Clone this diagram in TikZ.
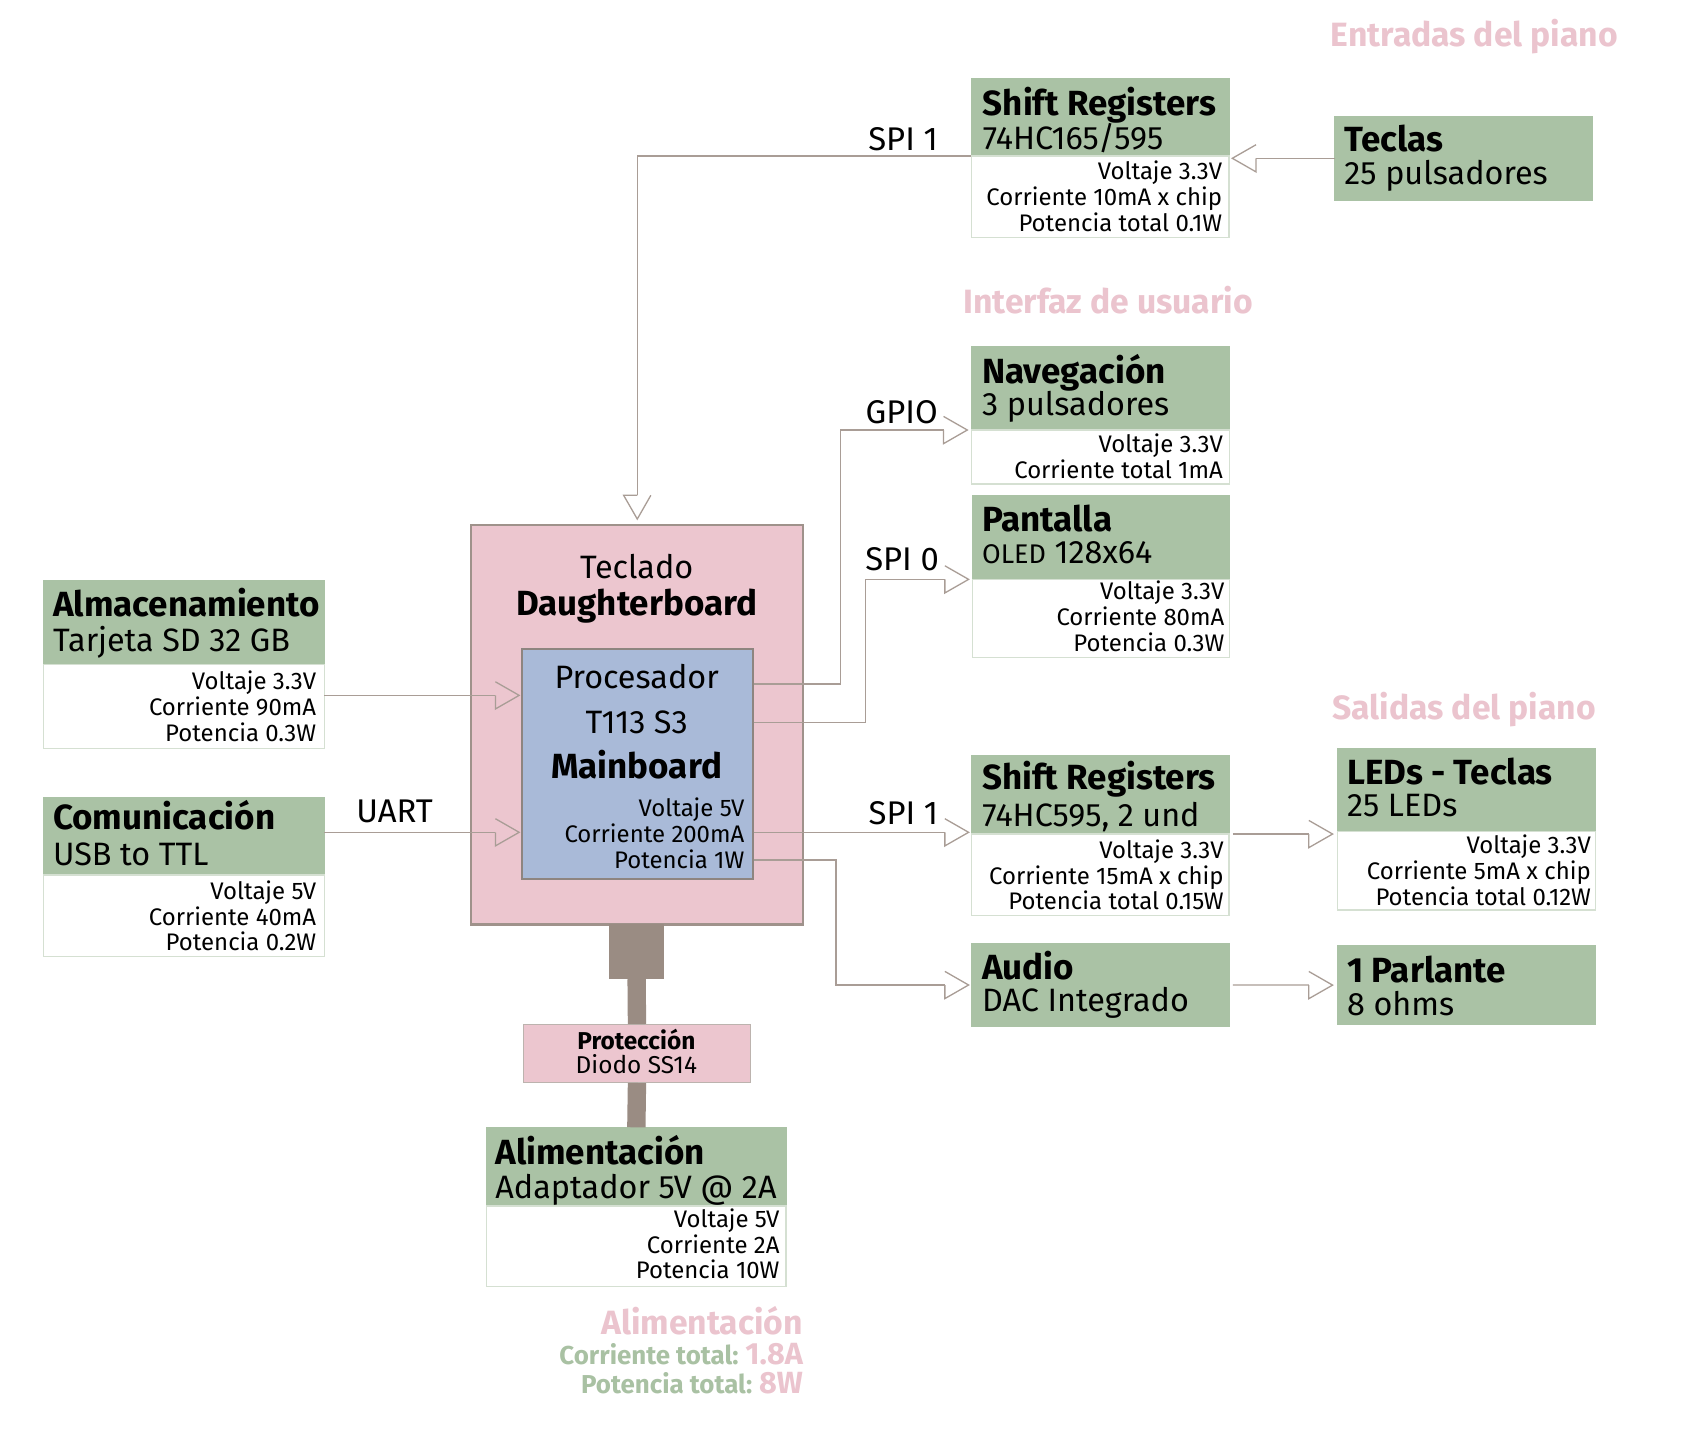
\documentclass[tikz,border=0pt]{standalone}
\usepackage{fontspec}
\setmainfont{Fira Sans}
\usetikzlibrary{arrows.meta}
\definecolor{hdrgreen}{HTML}{AAC2A5}
\definecolor{pinkfill}{HTML}{ECC6CF}
\definecolor{bluefill}{HTML}{A9BAD8}
\definecolor{linecol}{HTML}{A99D96}
\definecolor{barcol}{HTML}{9A8C83}
\definecolor{bordgreen}{HTML}{D5E0D2}
\definecolor{dbborder}{HTML}{9F928B}
\definecolor{mbborder}{HTML}{8E8580}
\definecolor{pinktext}{HTML}{EBC4CE}
\definecolor{greentext}{HTML}{A9C1A3}
\pgfdeclarearrow{
  name=Chev,
  setup code={
    \pgfarrowssettipend{0pt}
    \pgfarrowssetlineend{-11pt}
    \pgfarrowssetvisualbackend{-11pt}
    \pgfarrowssetbackend{-11pt}
    \pgfarrowshullpoint{0pt}{0pt}
    \pgfarrowshullpoint{-11pt}{6.3pt}
    \pgfarrowshullpoint{-11pt}{-6.3pt}
  },
  drawing code={
    \pgfpathmoveto{\pgfpoint{-11pt}{0pt}}
    \pgfpathlineto{\pgfpoint{-11pt}{-6.3pt}}
    \pgfpathlineto{\pgfpointorigin}
    \pgfpathlineto{\pgfpoint{-11pt}{6.3pt}}
    \pgfusepathqstroke
  }
}
\pgfdeclarearrow{
  name=ChevM,
  setup code={
    \pgfarrowssettipend{0pt}
    \pgfarrowssetlineend{-11pt}
    \pgfarrowssetvisualbackend{-11pt}
    \pgfarrowssetbackend{-11pt}
    \pgfarrowshullpoint{0pt}{0pt}
    \pgfarrowshullpoint{-11pt}{6.3pt}
    \pgfarrowshullpoint{-11pt}{-6.3pt}
  },
  drawing code={
    \pgfpathmoveto{\pgfpoint{-11pt}{0pt}}
    \pgfpathlineto{\pgfpoint{-11pt}{6.3pt}}
    \pgfpathlineto{\pgfpointorigin}
    \pgfpathlineto{\pgfpoint{-11pt}{-6.3pt}}
    \pgfusepathqstroke
  }
}
\newcommand\bx[6]{\node[#6, anchor=north west, minimum width={(#4-#2)*0.5pt}, minimum height={(#5-#3)*0.5pt}] (#1) at (#2,#3) {};}
\tikzset{
  hdr/.style={fill=hdrgreen, draw=hdrgreen, line width=0.5pt, inner sep=0, outer sep=0},
  bodybox/.style={fill=white, draw=bordgreen, line width=0.6pt, inner sep=0, outer sep=0},
  ttl/.style={anchor=base west, inner sep=0, font=\fontsize{16.2}{17}\selectfont\bfseries},
  subt/.style={anchor=base west, inner sep=0, font=\fontsize{15}{16}\selectfont},
  val/.style={anchor=base east, inner sep=0, font=\fontsize{11.1}{12}\selectfont},
  sec/.style={anchor=base east, inner sep=0, text=pinktext, font=\fontsize{15.6}{16}\selectfont\bfseries},
  lbl/.style={inner sep=0, font=\fontsize{15.2}{16}\selectfont},
  conn/.style={draw=linecol, line width=0.6pt},
  barline/.style={draw=barcol, line width=8.5pt},
}
\begin{document}
\begin{tikzpicture}[x=0.5pt,y=-0.5pt]
\useasboundingbox[fill=white] (0,0) rectangle (1568,1334);
% ---- boxes
\bx{sr1h}{900}{72.6}{1139}{144.6}{hdr}
\bx{sr1b}{900}{144.6}{1139}{220}{bodybox}
\bx{tec}{1236.8}{108.1}{1476}{185.3}{hdr}
\bx{navh}{900.4}{321.3}{1139.2}{398.5}{hdr}
\bx{navb}{900.4}{398.5}{1139.2}{448.5}{bodybox}
\bx{panh}{901}{459.6}{1139.2}{536.9}{hdr}
\bx{panb}{901}{536.9}{1139.2}{609.2}{bodybox}
\bx{sr2h}{900.6}{700.3}{1138.9}{772.9}{hdr}
\bx{sr2b}{900.6}{772.9}{1138.9}{848.2}{bodybox}
\bx{ledh}{1239.5}{693.5}{1478.7}{770.7}{hdr}
\bx{ledb}{1239.5}{770.7}{1478.7}{843.3}{bodybox}
\bx{aud}{900.6}{874.2}{1138.9}{951.4}{hdr}
\bx{parl}{1239.5}{876.6}{1478.7}{949.2}{hdr}
\bx{almh}{40.2}{538.1}{300.6}{615.6}{hdr}
\bx{almb}{40.2}{615.6}{300.6}{693.5}{bodybox}
\bx{comh}{40.2}{739.5}{300.6}{810.9}{hdr}
\bx{comb}{40.2}{810.9}{300.6}{886.5}{bodybox}
\bx{db}{435.6}{485.6}{743.5}{855.7}{fill=pinkfill, draw=dbborder, line width=1pt, inner sep=0}
\bx{mb}{482.7}{600.2}{696.5}{813.3}{fill=bluefill, draw=mbborder, line width=1pt, inner sep=0}
\bx{plug}{564.4}{855.7}{614.7}{906.6}{fill=barcol, inner sep=0}
\bx{prot}{484.4}{949}{695}{1002.4}{fill=pinkfill, draw=dbborder!70, line width=0.6pt, inner sep=0}
\bx{alih}{451}{1044.7}{728.4}{1117.6}{hdr}
\bx{alib}{451}{1117.6}{728.4}{1192.4}{bodybox}
% ---- power bars
\draw[barline] (plug.south) -- (prot.north);
\draw[barline] (prot.south) -- (alih.north);
% ---- connectors
\draw[conn,-ChevM,shorten >=1.5pt] (tec.west) -- (tec.west -| sr1h.east);
\draw[conn,-Chev,shorten >=2.3pt] (sr1h.south west) -| (db.north);
\coordinate (almout) at (300.6,644.4);
\draw[conn,-Chev,shorten >=0.8pt] (almout) -- (almout -| mb.west);
\coordinate (comout) at (300.6,771.3);
\draw[conn,-Chev,shorten >=0.8pt] (comout) -- (comout -| mb.west);
\coordinate (gpo) at (698.7,633.9);
\draw[conn,-Chev,shorten >=2pt] (gpo) -- ++(80.3,0) |- (navh.south west);
\coordinate (spo) at (698.7,669.7);
\draw[conn,-Chev,shorten >=1.7pt] (spo) -- ++(103.3,0) |- (panh.south west);
\coordinate (s1o) at (698.7,771.3);
\draw[conn,-Chev,shorten >=1.5pt] (s1o) -- (s1o -| sr2h.west);
\coordinate (auo) at (698.7,797);
\draw[conn,-Chev,shorten >=1.5pt] (auo) -- ++(76,0) |- (aud.west);
\draw[conn,-Chev,shorten <=1.8pt,shorten >=2.3pt] (sr2h.south east) -- (sr2h.south east -| ledh.west);
\draw[conn,-Chev,shorten <=1.8pt,shorten >=2.3pt] (aud.east) -- (parl.west);
% ---- connector labels
\node[lbl,anchor=base east] (l1) at (869.5,139.6) {SPI 1};
\node[lbl,anchor=base east] (l2) at (869.5,392.3) {GPIO};
\node[lbl,anchor=base east] (l3) at (870.5,528.5) {SPI 0};
\node[lbl,anchor=base east] (l4) at (869.8,763.6) {SPI 1};
\node[lbl,anchor=base west] (l5) at (329.9,762.4) {UART};
% ---- section headings
\node[sec] (s1) at (1499.7,43.3) {Entradas del piano};
\node[sec] (s2) at (1161.5,290.4) {Interfaz de usuario};
\node[sec] (s3) at (1479.2,667.2) {Salidas del piano};
% ---- box texts
\node[ttl] (a1) at (910.4,106.6) {Shift Registers};
\node[subt] (a2) at (910.4,139) {74HC165/595};
\node[val] (a3) at (1133,166.8) {Voltaje 3.3V};
\node[val] (a4) at (1133,190.6) {Corriente 10mA x chip};
\node[val] (a5) at (1133,214.7) {Potencia total 0.1W};
\node[ttl] (b1) at (1245.5,140.5) {Teclas};
\node[subt] (b2) at (1245.5,171.4) {25 pulsadores};
\node[ttl] (c1) at (909.7,355.2) {Navegación};
\node[subt] (c2) at (909.7,384.6) {3 pulsadores};
\node[val] (c3) at (1133.6,419.5) {Voltaje 3.3V};
\node[val] (c4) at (1133.6,443.3) {Corriente total 1mA};
\node[ttl] (d1) at (909.7,492.7) {Pantalla};
\node[subt] (d2) at (909.7,522) {{\fontsize{12.5}{14}\selectfont OLED} 128x64};
\node[val] (d3) at (1135,556) {Voltaje 3.3V};
\node[val] (d4) at (1135,580) {Corriente 80mA};
\node[val] (d5) at (1135,604) {Potencia 0.3W};
\node[ttl] (e1) at (910,732) {Shift Registers};
\node[subt] (e2) at (910,766) {74HC595, 2 und};
\node[val] (e3) at (1134.3,795.4) {Voltaje 3.3V};
\node[val] (e4) at (1134.3,819.5) {Corriente 15mA x chip};
\node[val] (e5) at (1134.3,842.7) {Potencia total 0.15W};
\node[ttl] (f1) at (1248,726.8) {LEDs - Teclas};
\node[subt] (f2) at (1248,756.2) {25 LEDs};
\node[val] (f3) at (1474.7,790.8) {Voltaje 3.3V};
\node[val] (f4) at (1474.7,814.9) {Corriente 5mA x chip};
\node[val] (f5) at (1474.7,838.7) {Potencia total 0.12W};
\node[ttl] (g1) at (909.7,907.5) {Audio};
\node[subt] (g2) at (909.7,937.5) {DAC Integrado};
\node[ttl] (h1) at (1248,910.6) {1 Parlante};
\node[subt] (h2) at (1248,940.6) {8 ohms};
\node[ttl] (i1) at (48.8,571.5) {Almacenamiento};
\node[subt] (i2) at (48.8,603.9) {Tarjeta SD 32 GB};
\node[val] (i3) at (293.4,638.8) {Voltaje 3.3V};
\node[val] (i4) at (293.4,663.2) {Corriente 90mA};
\node[val] (i5) at (293.4,687.3) {Potencia 0.3W};
\node[ttl] (j1) at (48.8,768.5) {Comunicación};
\node[subt] (j2) at (48.8,802.5) {USB to TTL};
\node[val] (j3) at (293.4,834) {Voltaje 5V};
\node[val] (j4) at (293.4,857.5) {Corriente 40mA};
\node[val] (j5) at (293.4,881) {Potencia 0.2W};
\node[subt,anchor=base] (k1) at (590,536) {Teclado};
\node[ttl,anchor=base] (k2) at (590,570.8) {Daughterboard};
\node[subt,anchor=base] (m1) at (590,637.9) {Procesador};
\node[subt,anchor=base] (m2) at (590,679.6) {T113 S3};
\node[ttl,anchor=base] (m3) at (590,721.3) {Mainboard};
\node[val] (m4) at (690.2,756.2) {Voltaje 5V};
\node[val] (m5) at (690.2,780.6) {Corriente 200mA};
\node[val] (m6) at (690.2,804.7) {Potencia 1W};
\node[inner sep=0,anchor=base,font=\fontsize{11.3}{12}\selectfont\bfseries] (p1) at (589.7,973) {Protección};
\node[inner sep=0,anchor=base,font=\fontsize{11.3}{12}\selectfont] (p2) at (589.7,994.6) {Diodo SS14};
\node[ttl] (q1) at (458.7,1079.6) {Alimentación};
\node[subt] (q2) at (458.7,1110.5) {Adaptador 5V @ 2A};
\node[val] (q3) at (722.8,1137.4) {Voltaje 5V};
\node[val] (q4) at (722.8,1161.5) {Corriente 2A};
\node[val] (q5) at (722.8,1185.2) {Potencia 10W};
% ---- totals
\node[sec] (r1) at (744.5,1237.1) {Alimentación};
\node[anchor=base east,inner sep=0,font=\bfseries] (r2) at (744.5,1264.3) {\textcolor{greentext}{\fontsize{12}{12}\selectfont Corriente total:} \textcolor{pinktext}{\fontsize{14.2}{14}\selectfont 1.8A}};
\node[anchor=base east,inner sep=0,font=\bfseries] (r3) at (744.5,1291.2) {\textcolor{greentext}{\fontsize{12}{12}\selectfont Potencia total:} \textcolor{pinktext}{\fontsize{14.2}{14}\selectfont 8W}};
\end{tikzpicture}
\end{document}
